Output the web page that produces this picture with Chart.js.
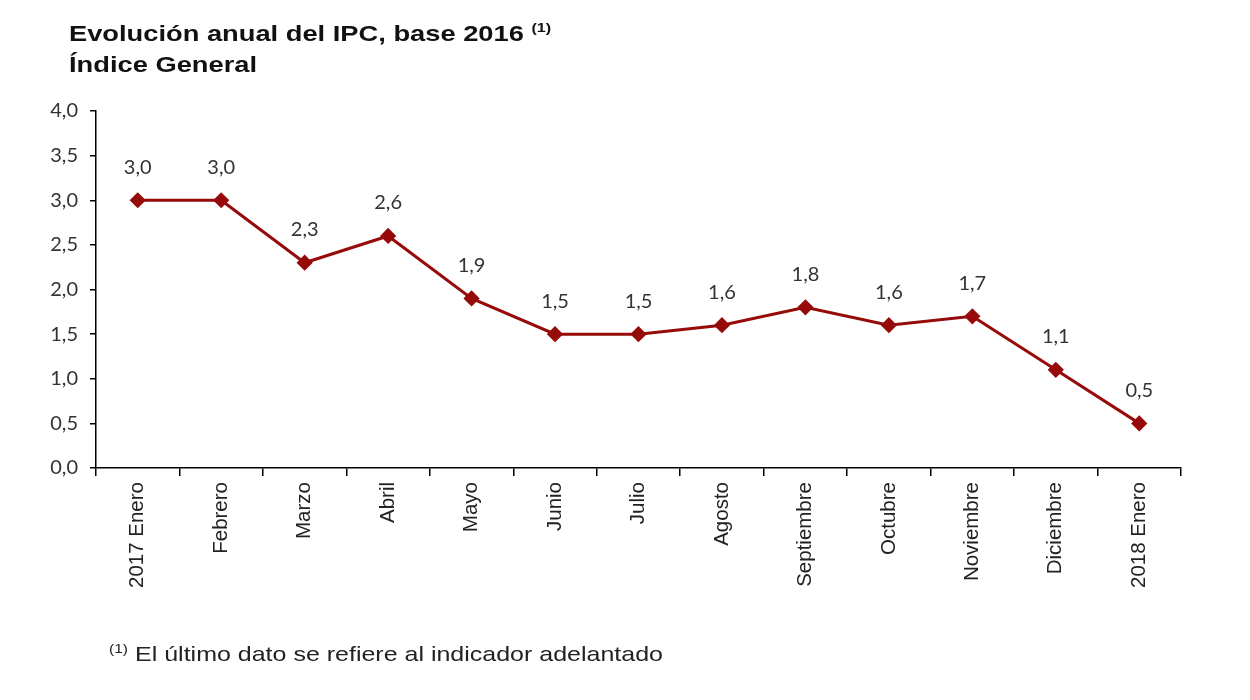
<!DOCTYPE html>
<html>
<head>
<meta charset="utf-8">
<script src="https://cdn.jsdelivr.net/npm/chart.js@4"></script>
<style>
  body { margin: 0; background: #fff; font-family: "Liberation Sans", Arial, sans-serif; }
  #wrap { position: relative; width: 1250px; height: 700px; }
  #chart { position: absolute; left: 0; top: 0; }
  .title { position: absolute; left: 69px; top: 12px; font-weight: bold; font-size: 22px; line-height: 31px; color: #111;
           transform: scaleX(1.24); transform-origin: left top; white-space: nowrap; }
  .title sup { font-size: 13px; vertical-align: 9px; }
  .note { position: absolute; left: 109px; top: 641px; font-size: 21px; color: #222;
          transform: scaleX(1.19); transform-origin: left top; white-space: nowrap; }
  .note sup { font-size: 13px; vertical-align: 8px; margin-right: 6px; }
</style>
</head>
<body>
<div id="wrap">
  <canvas id="chart" width="1250" height="700"></canvas>
  <div class="title">Evolución anual del IPC, base 2016 <sup>(1)</sup><br>Índice General</div>
  <div class="note"><sup>(1)</sup>El último dato se refiere al indicador adelantado</div>
</div>
<script>
const meses = ['2017 Enero', 'Febrero', 'Marzo', 'Abril', 'Mayo', 'Junio', 'Julio',
    'Agosto', 'Septiembre', 'Octubre', 'Noviembre', 'Diciembre', '2018 Enero'];
const ipcGeneral = [3.0, 3.0, 2.3, 2.6, 1.9, 1.5, 1.5, 1.6, 1.8, 1.6, 1.7, 1.1, 0.5];

const coma = (v) => Number(v).toFixed(1).replace('.', ',');

// etiquetas de valor encima de cada punto
const etiquetas = {
    id: 'etiquetas',
    afterDatasetsDraw(chart) {
        const ctx = chart.ctx;
        const meta = chart.getDatasetMeta(0);
        ctx.save();
        ctx.font = '20px Lato, "Open Sans", sans-serif';
        ctx.fillStyle = '#333';
        ctx.textAlign = 'center';
        ctx.textBaseline = 'middle';
        meta.data.forEach((pt, i) => {
            ctx.fillText(coma(ipcGeneral[i]), pt.x, pt.y - 33);
        });
        ctx.restore();
    }
};

const ctx = document.getElementById('chart').getContext('2d');
new Chart(ctx, {
    type: 'line',
    data: {
        labels: meses,
        datasets: [{
            data: ipcGeneral,
            borderColor: '#960a0a',
            backgroundColor: '#960a0a',
            borderWidth: 3,
            pointStyle: 'rectRot',
            pointRadius: 6,
            pointHoverRadius: 6,
            tension: 0,
        }]
    },
    options: {
        responsive: false,
        animation: false,
        layout: {
            padding: { left: 46, right: 69, top: 111, bottom: 82 }
        },
        scales: {
            x: {
                offset: true,
                grid: {
                    offset: true,
                    drawOnChartArea: false,
                    tickLength: 8,
                    color: '#000',
                    lineWidth: 1.5,
                },
                border: { color: '#000', width: 1.5 },
                ticks: {
                    minRotation: 90,
                    maxRotation: 90,
                    padding: 6,
                    color: '#222',
                    font: { family: '"Liberation Sans", Arial, sans-serif', size: 20.5 },
                },
                afterFit(scale) { scale.height = 150; },
            },
            y: {
                min: 0,
                max: 4,
                ticks: {
                    stepSize: 0.5,
                    padding: 12,
                    color: '#333',
                    font: { family: 'Lato, "Open Sans", sans-serif', size: 20 },
                    callback: (v) => coma(v),
                },
                grid: {
                    drawOnChartArea: false,
                    tickLength: 6,
                    color: '#000',
                    lineWidth: 1.5,
                },
                border: { color: '#000', width: 1.5 },
                afterFit(scale) { scale.width = 50; },
            }
        },
        plugins: {
            legend: { display: false },
            tooltip: { enabled: false },
        }
    },
    plugins: [etiquetas]
});
</script>
</body>
</html>
